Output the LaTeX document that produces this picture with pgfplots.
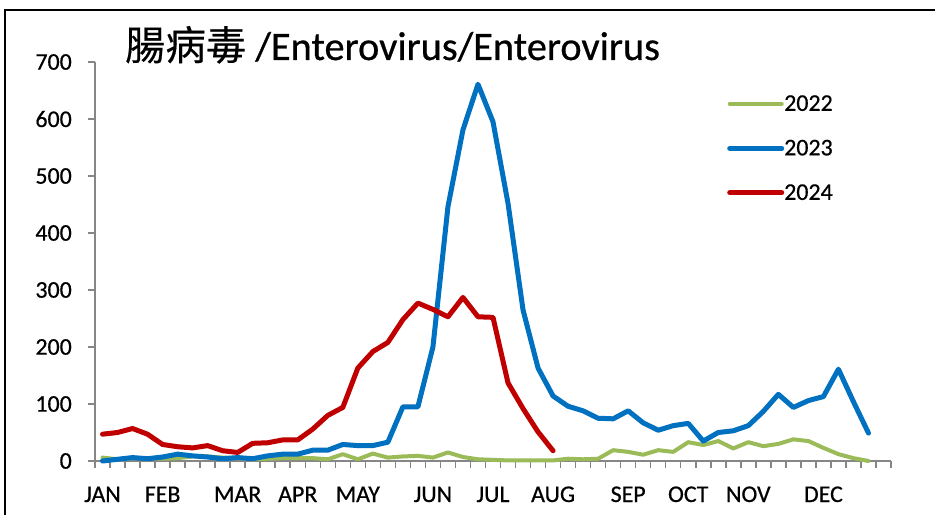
\documentclass[border=0pt]{standalone}
\usepackage{pgfplots}
\pgfplotsset{compat=1.18}
\usepackage{fontspec}
\setmainfont{Carlito}[FakeBold=0.6]
\newfontfamily\cjk{Noto Sans CJK TC}[FakeBold=0.4]
\definecolor{c22}{HTML}{9BBB59}
\definecolor{c23}{HTML}{0070C0}
\definecolor{c24}{HTML}{C00000}
\definecolor{axg}{HTML}{868686}
\begin{document}
\begin{tikzpicture}
\useasboundingbox (0,0) rectangle (935bp,515bp);
\fill[white] (0,0) rectangle (935bp,515bp);
\draw[black, line width=2bp] (5bp,0) -- (5bp,505bp) -- (935bp,505bp);
\node[anchor=base west, inner sep=0pt, font=\fontsize{40.5}{44}\selectfont] at (125bp,455bp) {{\cjk 腸病毒} /Enterovirus/Enterovirus};
\begin{axis}[
 at={(95bp,54bp)}, anchor=south west,
 scale only axis, width=796bp, height=399bp,
 xmin=0.5, xmax=53.5, ymin=0, ymax=700,
 axis x line*=bottom, axis y line*=left,
 axis line style={axg, line width=1.5bp, -},
 tick align=outside,
 tick style={axg, line width=1.5bp},
 major tick length=7bp, minor tick length=7bp,
 xtick={1,5,10,14,18,23,27,31,36,40,44,49},
 xticklabels={JAN,FEB,MAR,APR,MAY,JUN,JUL,AUG,SEP,OCT,NOV,DEC},
 major x tick style={draw=none},
 minor xtick={0.5,1.5,...,53.5},
 ytick={0,100,...,700},
 /pgf/number format/assume math mode=true,
 every tick label/.append style={font=\fontsize{24}{28}\selectfont},
 xticklabel style={anchor=base, inner sep=0pt, yshift=-34bp},
 yticklabel style={anchor=east, inner sep=0pt, xshift=-16bp},
 legend style={draw=none, fill=none, at={(rel axis cs:0.794,0.917)}, anchor=north west,
   font=\fontsize{24}{28}\selectfont, row sep=27.5bp, column sep=0bp, inner sep=0pt,
   nodes={inner sep=0pt}, cells={anchor=west}},
 legend image code/.code={\draw[#1] (0bp,0bp) -- (52bp,0bp);},
 every axis plot/.append style={line join=round, line cap=round, mark=none},
 clip=false,
]
\addplot[c22, line width=4bp] coordinates {
(1,6)(2,3)(3,5)(4,5)(5,4)(6,5)(7,8)(8,8)(9,6)(10,5)
(11,3)(12,4)(13,5)(14,5)(15,5)(16,3)(17,12)(18,3)(19,13)(20,6)
(21,8)(22,9)(23,6)(24,15)(25,7)(26,3)(27,2)(28,1)(29,1)(30,1)
(31,1)(32,4)(33,3)(34,4)(35,19)(36,16)(37,11)(38,19)(39,16)(40,33)
(41,28)(42,35)(43,22)(44,33)(45,26)(46,30)(47,38)(48,35)(49,23)(50,12)
(51,5)(52,0)};
\addlegendentry{2022}
\addplot[c23, line width=5bp] coordinates {
(1,0)(2,3)(3,6)(4,4)(5,7)(6,12)(7,9)(8,7)(9,4)(10,6)
(11,4)(12,9)(13,12)(14,12)(15,19)(16,19)(17,29)(18,27)(19,27)(20,33)
(21,95)(22,95)(23,200)(24,446)(25,581)(26,661)(27,595)(28,452)(29,265)(30,163)
(31,114)(32,96)(33,88)(34,75)(35,74)(36,88)(37,67)(38,54)(39,62)(40,66)
(41,35)(42,50)(43,53)(44,62)(45,87)(46,117)(47,94)(48,106)(49,113)(50,161)
(51,104)(52,49)};
\addlegendentry{2023}
\addplot[c24, line width=5bp] coordinates {
(1,47)(2,50)(3,57)(4,47)(5,29)(6,25)(7,23)(8,27)(9,18)(10,15)
(11,31)(12,32)(13,37)(14,37)(15,56)(16,80)(17,94)(18,163)(19,192)(20,208)
(21,248)(22,277)(23,266)(24,253)(25,287)(26,253)(27,252)(28,137)(29,92)(30,51)
(31,18)};
\addlegendentry{2024}
\end{axis}
\end{tikzpicture}
\end{document}
